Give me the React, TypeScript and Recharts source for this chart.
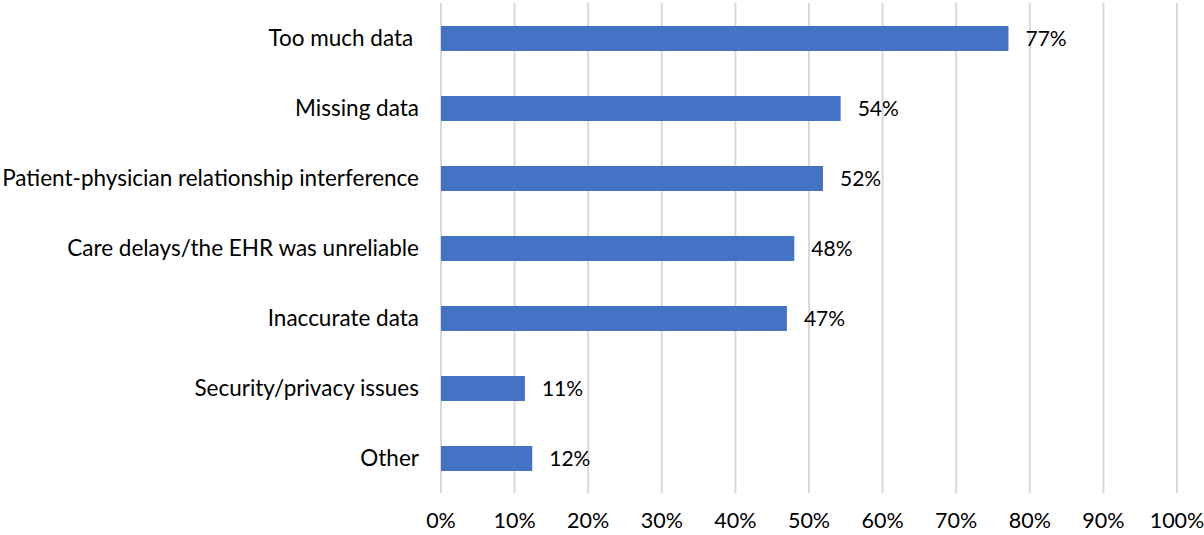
import { BarChart, Bar, XAxis, YAxis, CartesianGrid, LabelList } from 'recharts';

const categories = [
  'Too much data\u00a0',
  'Missing data',
  'Patient-physician relationship interference',
  'Care delays/the EHR was unreliable',
  'Inaccurate data',
  'Security/privacy issues',
  'Other',
];
const shares = [77.1, 54.3, 51.9, 48, 47, 11.4, 12.4];
const xTicks = [0, 10, 20, 30, 40, 50, 60, 70, 80, 90, 100];

const data = categories.map((name, i) => ({ name, value: shares[i] }));

const FONT = 'Lato, "Open Sans", sans-serif';

export default function App() {
  return (
    <div style={{ position: 'absolute', left: 0, top: 0, background: '#fff' }}>
      <BarChart
        width={1204}
        height={535}
        data={data}
        layout="vertical"
        margin={{ top: 3, right: 27, left: 0, bottom: 0 }}
        barCategoryGap={0}
      >
        <CartesianGrid horizontal={false} stroke="#d9d9d9" strokeWidth={2} />
        <XAxis
          type="number"
          domain={[0, 100]}
          ticks={xTicks}
          tickFormatter={(v) => `${v}%`}
          axisLine={false}
          tickLine={false}
          tickSize={0}
          tickMargin={20}
          height={42}
          interval={0}
          tick={{ fill: '#000', fontSize: 21.5, fontFamily: FONT }}
        />
        <YAxis
          type="category"
          dataKey="name"
          width={441}
          axisLine={false}
          tickLine={false}
          tickSize={0}
          tickMargin={22}
          interval={0}
          tick={{ fill: '#000', fontSize: 22.5, fontFamily: FONT }}
        />
        <Bar dataKey="value" fill="#4472c4" barSize={25} isAnimationActive={false}>
          <LabelList
            dataKey="value"
            position="right"
            offset={17}
            fill="#000"
            fontSize={21}
            fontFamily={FONT}
            formatter={(v: number) => `${Math.round(v)}%`}
          />
        </Bar>
      </BarChart>
    </div>
  );
}
